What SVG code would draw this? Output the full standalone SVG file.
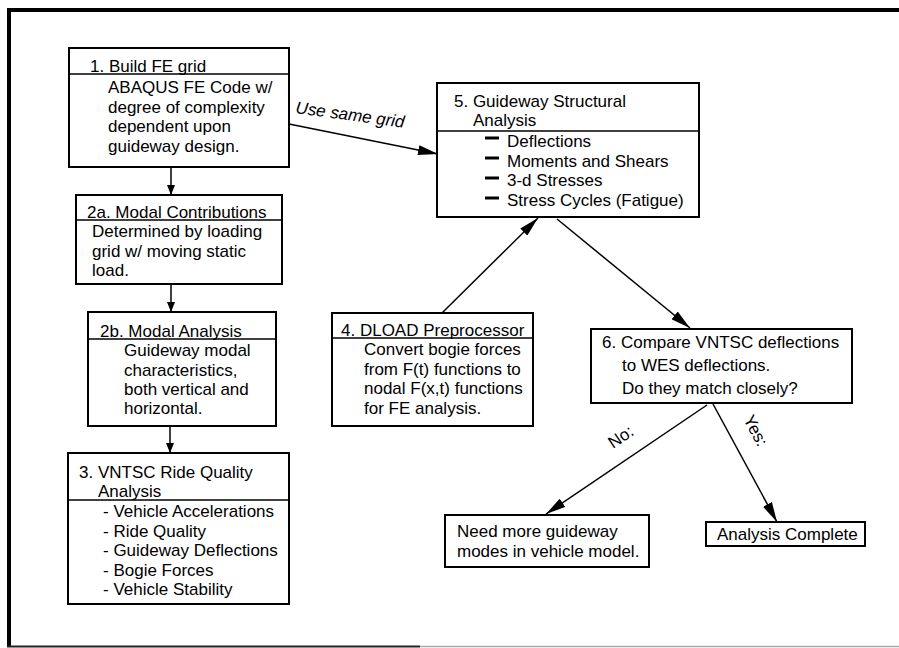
<svg xmlns="http://www.w3.org/2000/svg" width="899" height="648" viewBox="0 0 899 648">
<style>
.box{fill:#fff;stroke:#000;stroke-width:2}
.div{stroke:#000;stroke-width:1.5}
text{font-family:"Liberation Sans",Arial,sans-serif;font-size:17px;fill:#000}
.con{stroke:#000;stroke-width:1.5;fill:none}
.bul{stroke:#000;stroke-width:3}
</style>
<defs>
<marker id="big" viewBox="0 0 20 10" refX="20" refY="5" markerWidth="20" markerHeight="10" markerUnits="userSpaceOnUse" orient="auto"><path d="M0,0 L20,5 L0,10 Z" fill="#000"/></marker>
<marker id="sm" viewBox="0 0 10 8" refX="10" refY="4" markerWidth="10" markerHeight="8" markerUnits="userSpaceOnUse" orient="auto"><path d="M0,0 L10,4 L0,8 Z" fill="#000"/></marker>
</defs>
<g id="frame">
<path d="M9,647 L9,10 L899,10" fill="none" stroke="#000" stroke-width="4"/>
<line x1="7" y1="646.5" x2="420" y2="646.5" stroke="#222" stroke-width="2"/>
<line x1="420" y1="646.5" x2="899" y2="646.5" stroke="#aaa" stroke-width="1.5"/>
</g>
<g id="connectors">
<line class="con" x1="171" y1="167" x2="171" y2="195" marker-end="url(#sm)"/>
<line class="con" x1="171" y1="284" x2="171" y2="312" marker-end="url(#sm)"/>
<line class="con" x1="170" y1="426" x2="170" y2="453" marker-end="url(#sm)"/>
<line class="con" x1="289" y1="124" x2="438" y2="154" marker-end="url(#big)"/>
<line class="con" x1="442" y1="313" x2="538" y2="218" marker-end="url(#big)"/>
<line class="con" x1="557" y1="219" x2="690" y2="328" marker-end="url(#big)"/>
<line class="con" x1="707" y1="405" x2="546" y2="514" marker-end="url(#big)"/>
<line class="con" x1="713" y1="404" x2="777" y2="522" marker-end="url(#big)"/>
<text transform="translate(295,113) rotate(7.7)" font-style="italic">Use same grid</text>
<text transform="translate(613,449) rotate(-34)">No:</text>
<text transform="translate(743,419) rotate(62)">Yes:</text>
</g>
<g id="n1">
<rect class="box" x="69" y="48" width="220" height="119"/>
<line class="div" x1="69" y1="74" x2="289" y2="74"/>
<text x="90" y="72">1. Build FE grid</text>
<text x="108" y="93">ABAQUS FE Code w/</text>
<text x="108" y="113">degree of complexity</text>
<text x="108" y="132">dependent upon</text>
<text x="108" y="152">guideway design.</text>
</g>
<g id="n2a">
<rect class="box" x="76" y="195" width="206" height="89"/>
<line class="div" x1="76" y1="220" x2="282" y2="220"/>
<text x="87" y="218">2a. Modal Contributions</text>
<text x="92" y="237">Determined by loading</text>
<text x="92" y="257">grid w/ moving static</text>
<text x="92" y="276">load.</text>
</g>
<g id="n2b">
<rect class="box" x="88" y="312" width="188" height="114"/>
<line class="div" x1="88" y1="339" x2="276" y2="339"/>
<text x="100" y="337">2b. Modal Analysis</text>
<text x="124" y="356">Guideway modal</text>
<text x="124" y="376">characteristics,</text>
<text x="124" y="395">both vertical and</text>
<text x="124" y="414">horizontal.</text>
</g>
<g id="n3">
<rect class="box" x="68" y="453" width="221" height="151"/>
<line class="div" x1="68" y1="500" x2="289" y2="500"/>
<text x="79" y="478">3. VNTSC Ride Quality</text>
<text x="98" y="497">Analysis</text>
<text x="103" y="517">- Vehicle Accelerations</text>
<text x="103" y="537">- Ride Quality</text>
<text x="103" y="556">- Guideway Deflections</text>
<text x="103" y="576">- Bogie Forces</text>
<text x="103" y="595">- Vehicle Stability</text>
</g>
<g id="n4">
<rect class="box" x="332" y="313" width="201" height="113"/>
<line class="div" x1="332" y1="338" x2="533" y2="338"/>
<text x="341" y="336">4. DLOAD Preprocessor</text>
<text x="364" y="355">Convert bogie forces</text>
<text x="364" y="375">from F(t) functions to</text>
<text x="364" y="394">nodal F(x,t) functions</text>
<text x="364" y="414">for FE analysis.</text>
</g>
<g id="n5">
<rect class="box" x="437" y="83" width="262" height="134"/>
<line class="div" x1="437" y1="131" x2="699" y2="131"/>
<text x="454" y="107">5. Guideway Structural</text>
<text x="473" y="126">Analysis</text>
<line class="bul" x1="485" y1="138" x2="499" y2="138"/>
<line class="bul" x1="485" y1="158" x2="499" y2="158"/>
<line class="bul" x1="485" y1="178" x2="499" y2="178"/>
<line class="bul" x1="485" y1="198" x2="499" y2="198"/>
<text x="507" y="147">Deflections</text>
<text x="507" y="167">Moments and Shears</text>
<text x="507" y="186">3-d Stresses</text>
<text x="507" y="206">Stress Cycles (Fatigue)</text>
</g>
<g id="n6">
<rect class="box" x="591" y="329" width="261" height="74"/>
<text x="602" y="348">6. Compare VNTSC deflections</text>
<text x="622" y="371">to WES deflections.</text>
<text x="622" y="394">Do they match closely?</text>
</g>
<g id="n7">
<rect class="box" x="445" y="515" width="204" height="52"/>
<text x="457" y="537">Need more guideway</text>
<text x="457" y="557">modes in vehicle model.</text>
</g>
<g id="n8">
<rect class="box" x="706" y="522" width="159" height="24"/>
<text x="717" y="540">Analysis Complete</text>
</g>
</svg>
